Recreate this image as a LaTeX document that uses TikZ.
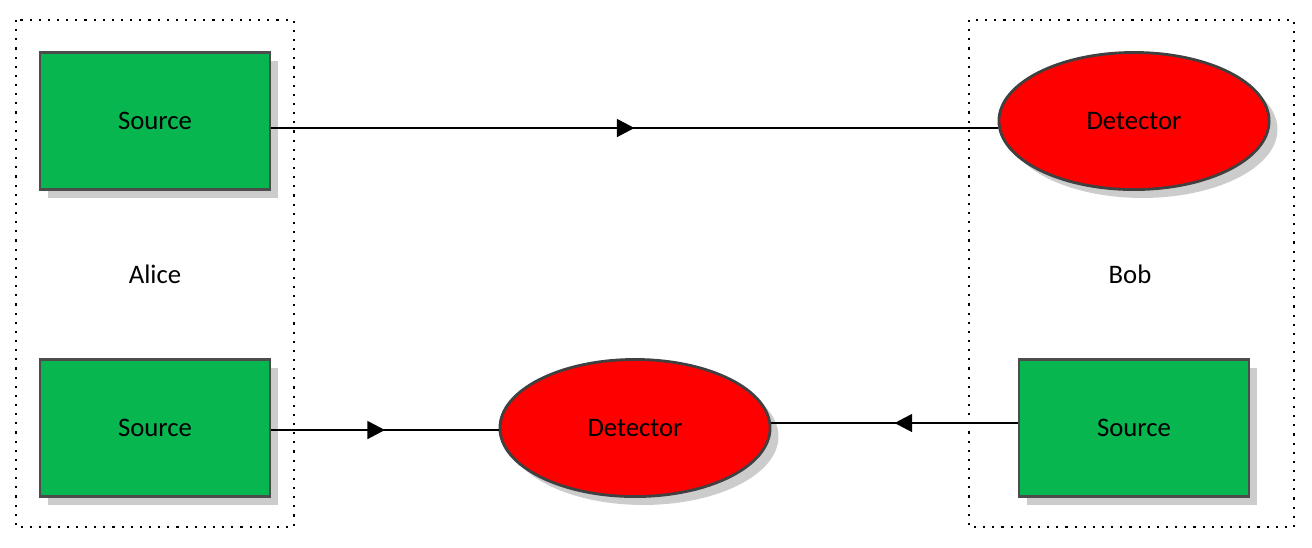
\documentclass[tikz,border=0pt]{standalone}
\usepackage{fontspec}
\setmainfont{Carlito}
\usetikzlibrary{shapes.geometric,shadows,decorations.markings,arrows.meta}
\begin{document}
\begin{tikzpicture}[x=0.01cm,y=-0.01cm,
  src/.style={draw=black!70,line width=0.8pt,fill={rgb,255:red,8;green,182;blue,80},minimum width=2.3cm,minimum height=1.37cm,drop shadow={opacity=0.4},font=\fontsize{7.6}{9}\selectfont},
  det/.style={ellipse,draw=black!75,line width=0.8pt,fill={rgb,255:red,255;green,0;blue,0},minimum width=2.7cm,minimum height=1.37cm,drop shadow={opacity=0.4},font=\fontsize{7.6}{9}\selectfont},
  grp/.style={draw,dotted,line width=0.6pt},
  midarrow/.style={postaction={decorate},decoration={markings,mark=at position 0.5 with {\arrow{Triangle[length=5pt,width=5pt]}}}},
  lbl/.style={font=\fontsize{7.6}{9}\selectfont}]
\useasboundingbox (0,0) rectangle (1312,547);
\draw[grp] (16,20) rectangle (294,527);
\draw[grp] (969,20) rectangle (1294,527);
\node[src] (s1) at (155,121) {Source};
\node[src] (s2) at (155,428) {Source};
\node[src] (s3) at (1134,428) {Source};
\node[det] (d1) at (1134,121) {Detector};
\node[det] (d2) at (635,428) {Detector};
\node[lbl] (alice) at (155,274) {Alice};
\node[lbl] (bob) at (1130,274) {Bob};
\draw[midarrow,line width=0.8pt] (s1.east |- 0,128) -- (d1.west |- 0,128);
\draw[midarrow,line width=0.8pt] (s2.east |- 0,430) -- (d2.west |- 0,430);
\draw[midarrow,line width=0.8pt] (s3.west |- 0,423) -- (d2.east |- 0,423);
\end{tikzpicture}
\end{document}
